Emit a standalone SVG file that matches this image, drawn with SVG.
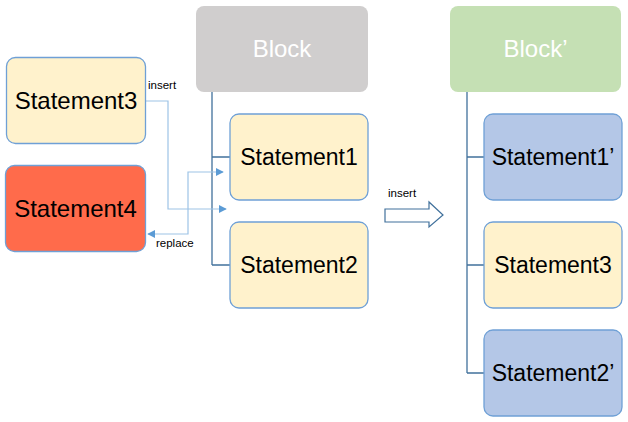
<svg xmlns="http://www.w3.org/2000/svg" width="628" height="422" viewBox="0 0 628 422">
<defs>
<style>
.st{stroke:#6FA0D6;stroke-width:1.3}
.yel{fill:#FFF2CC}
.blu{fill:#B4C7E7}
.red{fill:#FF6B4B}
.lbl{font-family:"Liberation Sans",Arial,sans-serif;font-size:23px;fill:#000;text-anchor:middle}
.big{font-size:24px}
.hdr{font-family:"Liberation Sans",Arial,sans-serif;font-size:24px;fill:#FFFFFF;text-anchor:middle}
.sm{font-family:"Liberation Sans",Arial,sans-serif;font-size:11.5px;fill:#000}
.tree{fill:none;stroke:#41719C;stroke-width:1.3}
.con{fill:none;stroke:#9DC3E6;stroke-width:1.2}
</style>
<marker id="ah" viewBox="0 0 10 10" refX="9" refY="5" markerWidth="8" markerHeight="8" markerUnits="userSpaceOnUse" orient="auto-start-reverse">
<path d="M0,0 L10,5 L0,10 z" fill="#5B9BD5"/>
</marker>
</defs>
<rect width="628" height="422" fill="#FFFFFF"/>

<g id="connectors">
<path class="tree" d="M212,92 V265 M212,157 H230 M212,265 H230"/>
<path class="tree" d="M467,92 V373 M467,157 H484 M467,265 H484 M467,373 H484"/>
<path class="con" d="M145,101 H168 V209 H226" marker-end="url(#ah)"/>
<path class="con" d="M223,172 H188 V234 H148" marker-start="url(#ah)" marker-end="url(#ah)"/>
<path d="M385,209 H429 V202 L443,215 L429,227 V222 H385 Z" fill="#FFFFFF" stroke="#41719C" stroke-width="1.2"/>
</g>

<g id="labels">
<text class="sm" x="148" y="89">insert</text>
<text class="sm" x="156" y="247">replace</text>
<text class="sm" x="388" y="197">insert</text>
</g>

<g id="block">
<rect x="196" y="6" width="172" height="86" rx="8" fill="#D0CECE"/>
<text class="hdr" x="282" y="57">Block</text>
</g>
<g id="statement1">
<rect class="st yel" x="230" y="114" width="138" height="86" rx="9"/>
<text class="lbl" x="299" y="165">Statement1</text>
</g>
<g id="statement2">
<rect class="st yel" x="230" y="222" width="138" height="86" rx="9"/>
<text class="lbl" x="299" y="273">Statement2</text>
</g>
<g id="statement3">
<rect class="st yel" x="6.5" y="57.5" width="139" height="86" rx="9"/>
<text class="lbl big" x="76" y="109">Statement3</text>
</g>
<g id="statement4">
<rect class="st red" x="5.5" y="165.5" width="140" height="86" rx="9"/>
<text class="lbl big" x="75.5" y="217">Statement4</text>
</g>

<g id="block-prime">
<rect x="450" y="6" width="171" height="86" rx="8" fill="#C5E0B4"/>
<text class="hdr" x="535.5" y="57">Block’</text>
</g>
<g id="statement1-prime">
<rect class="st blu" x="484" y="114" width="138" height="86" rx="9"/>
<text class="lbl" x="553" y="165">Statement1’</text>
</g>
<g id="statement3-new">
<rect class="st yel" x="484" y="222" width="138" height="86" rx="9"/>
<text class="lbl" x="553" y="273">Statement3</text>
</g>
<g id="statement2-prime">
<rect class="st blu" x="484" y="330" width="138" height="86" rx="9"/>
<text class="lbl" x="553" y="381">Statement2’</text>
</g>
</svg>
